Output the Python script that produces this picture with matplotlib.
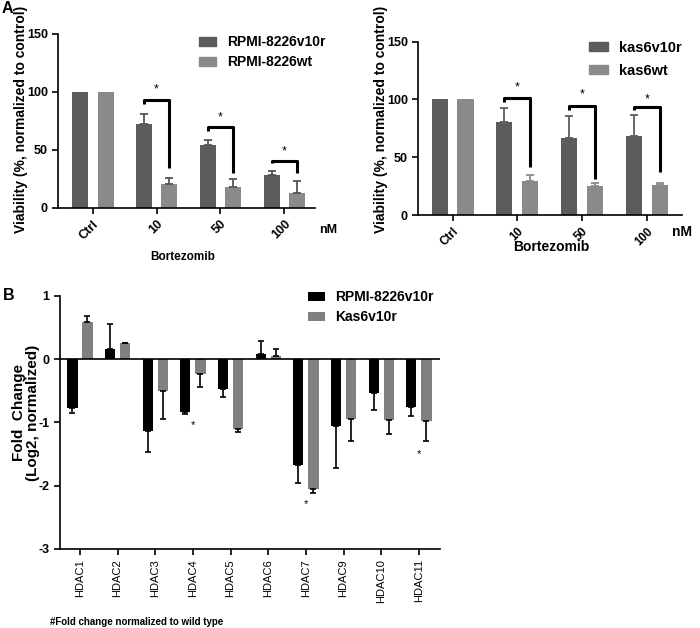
import matplotlib
matplotlib.use('Agg')
import matplotlib.pyplot as plt
import numpy as np
from matplotlib.patches import Patch

plt.rcParams['font.family'] = ['Liberation Sans', 'DejaVu Sans']

# ---- data ----
doses = ['Ctrl', '10', '50', '100']

rpmi_v10r = [100, 72, 54, 28]
rpmi_v10r_sd = [0, 8.7, 4.8, 3.7]
rpmi_wt = [100, 20.7, 17.6, 13]
rpmi_wt_sd = [0, 4.7, 6.9, 10]

kas_v10r = [100, 80.5, 66.7, 68.1]
kas_v10r_sd = [0, 11.9, 19, 18.2]
kas_wt = [100, 29.2, 25.4, 26]
kas_wt_sd = [0, 5.7, 2.3, 1.7]

# significance brackets (dose index 1..3): top, left drop, right drop, star
rpmi_brk_top = [93, 69.5, 40.6]
rpmi_brk_left = [89.6, 66, 38.3]
rpmi_brk_right = [34, 29.7, 30.3]
rpmi_star = [101.7, 78, 48.4]

kas_brk_top = [101, 94.4, 93.8]
kas_brk_left = [98, 91, 90.5]
kas_brk_right = [41.8, 31.2, 37.5]
kas_star = [110, 104, 100.4]

hdacs = ['HDAC1', 'HDAC2', 'HDAC3', 'HDAC4', 'HDAC5', 'HDAC6', 'HDAC7',
         'HDAC9', 'HDAC10', 'HDAC11']
fc_rpmi = [-0.77, 0.16, -1.14, -0.83, -0.47, 0.08, -1.68, -1.06, -0.53, -0.76]
fc_rpmi_sd = [0.08, 0.39, 0.33, 0.04, 0.13, 0.21, 0.28, 0.66, 0.27, 0.14]
fc_kas = [0.59, 0.25, -0.51, -0.24, -1.11, 0.05, -2.06, -0.95, -0.96, -0.98]
fc_kas_sd = [0.10, 0.01, 0.44, 0.20, 0.05, 0.11, 0.06, 0.35, 0.22, 0.32]
fc_star_idx = [3, 6, 9]
fc_star_y = [-1.05, -2.29, -1.50]

DARK = '#5c5c5c'
LIGHT = '#8a8a8a'


def one_sided(vals, sd):
    lo = [s if v < 0 else 0 for v, s in zip(vals, sd)]
    hi = [s if v >= 0 else 0 for v, s in zip(vals, sd)]
    return [lo, hi]


def style(ax):
    for s in ['top', 'right']:
        ax.spines[s].set_visible(False)
    for s in ['left', 'bottom']:
        ax.spines[s].set_linewidth(1.2)
    ax.tick_params(width=1.2, length=4)


def viability_panel(ax, dark, dark_sd, light, light_sd, ecol_dark, ecol_light,
                    top, left, right, star, labels, leg_xy, fs_lab, leg_fs, leg_sp,
                    tick_fs):
    x = np.arange(len(doses))
    off, w = 0.2, 0.25
    ax.bar(x - off, dark, w, color=DARK, zorder=2)
    ax.bar(x + off, light, w, color=LIGHT, zorder=2)
    for xs, v, sd, c in [(x - off, dark, dark_sd, ecol_dark),
                         (x + off, light, light_sd, ecol_light)]:
        m = np.array(sd) > 0
        ax.errorbar(xs[m], np.array(v)[m], yerr=[np.zeros(m.sum()), np.array(sd)[m]],
                    fmt='none', ecolor=c, elinewidth=1.3, capsize=3, capthick=1.3, zorder=3)
    for i in range(3):
        xi = i + 1
        ax.plot([xi - off, xi - off, xi + off, xi + off],
                [left[i], top[i], top[i], right[i]], color='black', lw=2.2,
                solid_joinstyle='round', solid_capstyle='butt', zorder=4)
        ax.text(xi, star[i], '*', ha='center', va='center', fontsize=9)
    ax.set_ylim(0, 150)
    ax.set_yticks([0, 50, 100, 150])
    ax.set_xlim(-0.54, 3.48)
    ax.set_xticks(x)
    ax.set_xticklabels(doses, rotation=45, ha='right', va='top',
                       rotation_mode='anchor', fontweight='bold', fontsize=tick_fs)
    for t in ax.get_yticklabels():
        t.set_fontweight('bold')
        t.set_fontsize(9)
    ax.set_ylabel('Viability (%, normalized to control)', fontweight='bold',
                  fontsize=fs_lab)
    style(ax)
    ax.legend(handles=[Patch(color=DARK, label=labels[0]),
                       Patch(color=LIGHT, label=labels[1])],
              loc='upper left', bbox_to_anchor=leg_xy,
              bbox_transform=plt.gcf().transFigure, frameon=False,
              prop={'weight': 'bold', 'size': leg_fs}, handlelength=1.25,
              handleheight=0.6, handletextpad=0.8, labelspacing=leg_sp,
              borderpad=0, borderaxespad=0)


fig = plt.figure(figsize=(7, 6.28), dpi=100)

ax1 = fig.add_axes([0.0833, 0.6693, 0.3667, 0.2766])
viability_panel(ax1, rpmi_v10r, rpmi_v10r_sd, rpmi_wt, rpmi_wt_sd, '#555555', '#555555',
                rpmi_brk_top, rpmi_brk_left, rpmi_brk_right, rpmi_star,
                ['RPMI-8226v10r', 'RPMI-8226wt'], (0.284, 0.944), 10, 10, 0.45, 9)
ax1.yaxis.set_label_coords(-0.118, 0.51)
ax1.text(0.484, -0.282, 'Bortezomib', transform=ax1.transAxes, ha='center',
         va='center', fontweight='bold', fontsize=8.5)
ax1.text(1.05, -0.128, 'nM', transform=ax1.transAxes, ha='center',
         va='center', fontweight='bold', fontsize=9)

ax2 = fig.add_axes([0.5976, 0.6576, 0.3763, 0.2760])
viability_panel(ax2, kas_v10r, kas_v10r_sd, kas_wt, kas_wt_sd, DARK, LIGHT,
                kas_brk_top, kas_brk_left, kas_brk_right, kas_star,
                ['kas6v10r', 'kas6wt'], (0.842, 0.935), 10, 10.5, 0.6, 8.5)
ax2.set_xlim(-0.53, 3.54)
ax2.yaxis.set_label_coords(-0.115, 0.55)
ax2.text(0.504, -0.185, 'Bortezomib', transform=ax2.transAxes, ha='center',
         va='center', fontweight='bold', fontsize=10)
ax2.text(0.963, -0.098, 'nM', transform=ax2.transAxes, ha='left',
         va='center', fontweight='bold', fontsize=10)

# ---- panel B ----
ax3 = fig.add_axes([0.0857, 0.1263, 0.5429, 0.4024])
xb = np.arange(len(hdacs))
off, w = 0.2, 0.27
ax3.bar(xb - off, fc_rpmi, w, color='black', label='RPMI-8226v10r', zorder=2)
ax3.bar(xb + off, fc_kas, w, color='#808080', label='Kas6v10r', zorder=2)
ax3.errorbar(xb - off, fc_rpmi, yerr=one_sided(fc_rpmi, fc_rpmi_sd), fmt='none',
             ecolor='black', elinewidth=1.2, capsize=2.5, capthick=1.2, zorder=3)
ax3.errorbar(xb + off, fc_kas, yerr=one_sided(fc_kas, fc_kas_sd), fmt='none',
             ecolor='black', elinewidth=1.2, capsize=2.5, capthick=1.2, zorder=3)
ax3.axhline(0, color='black', lw=1.2, zorder=4)
for i, y in zip(fc_star_idx, fc_star_y):
    ax3.text(i, y, '*', ha='center', va='center', fontsize=8)
ax3.set_ylim(-3, 1)
ax3.set_yticks([-3, -2, -1, 0, 1])
ax3.set_yticklabels(['-3', '-2', '-1', '0', '1'], fontweight='bold', fontsize=9)
ax3.set_xlim(-0.53, 9.56)
ax3.set_xticks(xb)
ax3.set_xticklabels(hdacs, rotation=90, fontsize=8)
ax3.set_ylabel('Fold  Change\n(Log2, normalized)', fontweight='bold',
               fontsize=11, linespacing=1.0)
ax3.yaxis.set_label_coords(-0.053, 0.537)
style(ax3)
ax3.legend(loc='upper left', bbox_to_anchor=(0.44, 0.538),
           bbox_transform=fig.transFigure, frameon=False,
           prop={'weight': 'bold', 'size': 10}, handlelength=1.25,
           handleheight=0.6, handletextpad=0.7, labelspacing=0.45,
           borderpad=0, borderaxespad=0)

fig.text(0.002, 0.986, 'A', fontweight='bold', fontsize=11.5, ha='left', va='center')
fig.text(0.004, 0.529, 'B', fontweight='bold', fontsize=11.5, ha='left', va='center')
fig.text(0.071, 0.0096, '#Fold change normalized to wild type', fontweight='bold',
         fontsize=7, ha='left', va='center')

fig.savefig('out.png', dpi=100)
